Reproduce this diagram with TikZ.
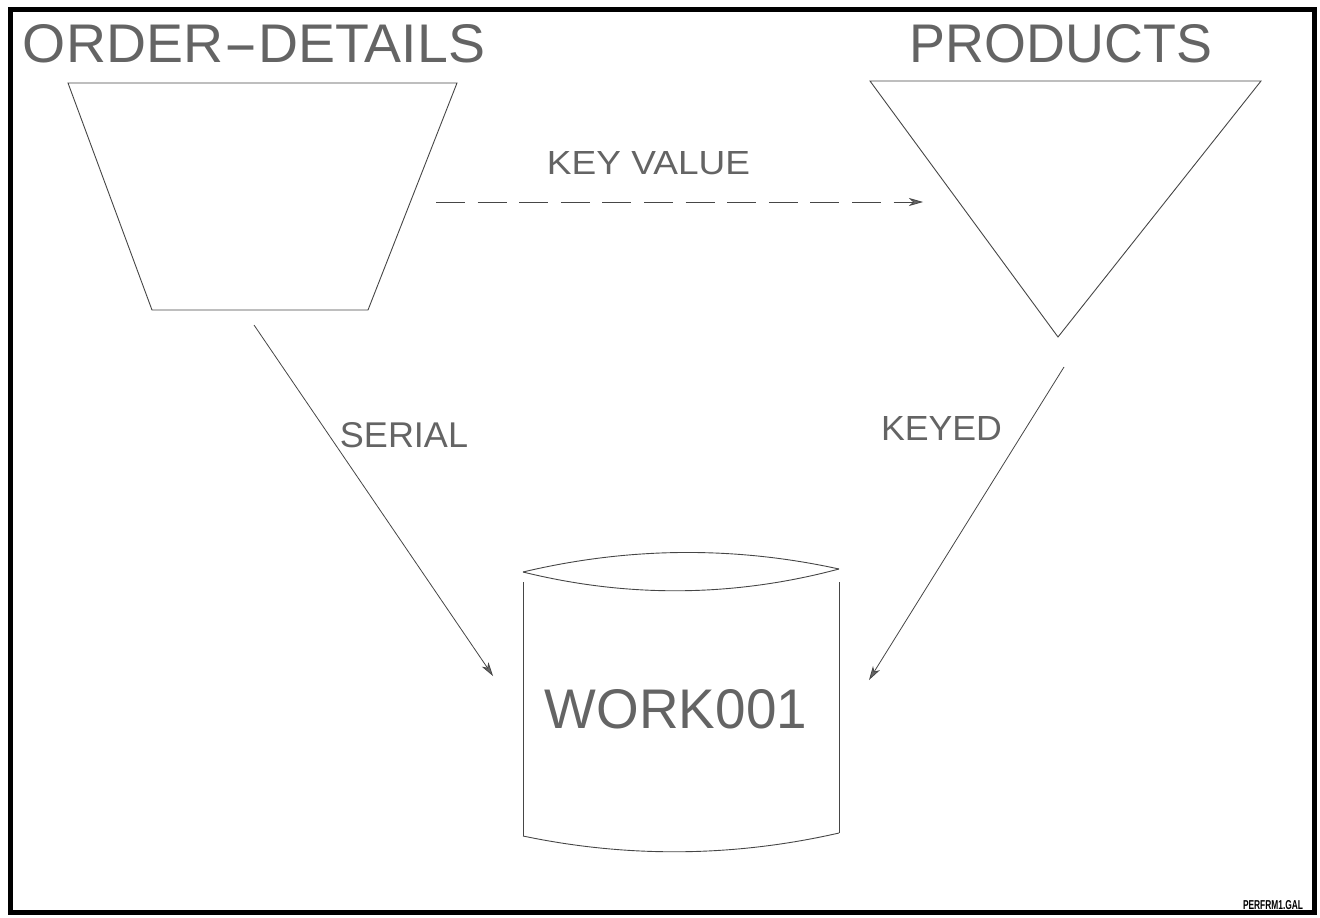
\documentclass[tikz,border=0pt]{standalone}
\usepackage{fontspec}
\setmainfont{Liberation Sans}
\usetikzlibrary{arrows.meta}
\definecolor{txtgray}{RGB}{100,100,100}
\definecolor{linegray}{RGB}{70,70,70}
\newcommand{\fitbox}[3]{\resizebox{#1pt}{#2pt}{#3}}
\tikzset{
  lbl/.style={inner sep=0pt, outer sep=0pt, text=txtgray, anchor=center},
  shapeline/.style={draw=linegray, line width=0.9pt},
  flow/.style={draw=linegray, line width=0.8pt,
    -{Stealth[length=14pt, width=8pt, inset=4pt, fill=gray!80!black]}},
  dashflow/.style={flow, dash pattern=on 29pt off 12.6pt},
}
\begin{document}
\begin{tikzpicture}[x=1pt, y=-1pt]
\useasboundingbox (0,0) rectangle (1320,918);
\draw[line width=4.5pt, black] (10.5,9.5) rectangle (1314.5,912.5);

% titles
\node[lbl] (tOD) at (254,44) {\fitbox{462}{38}{ORDER\scalebox{1.9}[1]{-}DETAILS}};
\node[lbl] (tPR) at (1061,44) {\fitbox{302}{38}{PRODUCTS}};

% ORDER-DETAILS trapezoid
\coordinate (od1) at (68,83);
\coordinate (od2) at (457,83);
\coordinate (od3) at (368,310);
\coordinate (od4) at (152,310);
\draw[shapeline] (od1) -- (od2) -- (od3) -- (od4) -- cycle;

% PRODUCTS triangle
\coordinate (pr1) at (870,81);
\coordinate (pr2) at (1261,81);
\coordinate (pr3) at (1058,337);
\draw[shapeline] (pr1) -- (pr2) -- (pr3) -- cycle;

% WORK001 cylinder
\coordinate (cl) at (523,572);
\coordinate (cr) at (839,569);
\draw[shapeline] (cl) .. controls (628,547) and (734,546) .. (cr);
\draw[shapeline] (cl) .. controls (628,598) and (734,597) .. (cr);
\coordinate (sl1) at (523,582);
\coordinate (sl2) at (523,836);
\coordinate (sr1) at (839,582);
\coordinate (sr2) at (839,833);
\draw[shapeline] (sl1) -- (sl2);
\draw[shapeline] (sr1) -- (sr2);
\draw[shapeline] (sl2) .. controls (628,858) and (734,857) .. (sr2);
\node[lbl] (tWK) at (676,709.5) {\fitbox{262}{39}{WORK001}};

% connectors
\coordinate (kvA) at (436,202);
\coordinate (kvB) at (923,202);
\draw[dashflow] (kvA) -- (kvB);
\node[lbl] (tKV) at (648.5,163.5) {\fitbox{203}{23}{KEY VALUE}};

\coordinate (srA) at (254,325);
\coordinate (srB) at (493,676);
\draw[flow] (srA) -- (srB);
\node[lbl] (tSR) at (404,435.5) {\fitbox{128}{25}{SERIAL}};

\coordinate (kyA) at (1064,367);
\coordinate (kyB) at (869,680);
\draw[flow] (kyA) -- (kyB);
\node[lbl] (tKY) at (941.5,428) {\fitbox{121}{24}{KEYED}};

% file label
\node[inner sep=0pt, anchor=center] (tFile) at (1273,905) {\fitbox{60}{9}{\bfseries PERFRM1.GAL}};
\end{tikzpicture}
\end{document}
